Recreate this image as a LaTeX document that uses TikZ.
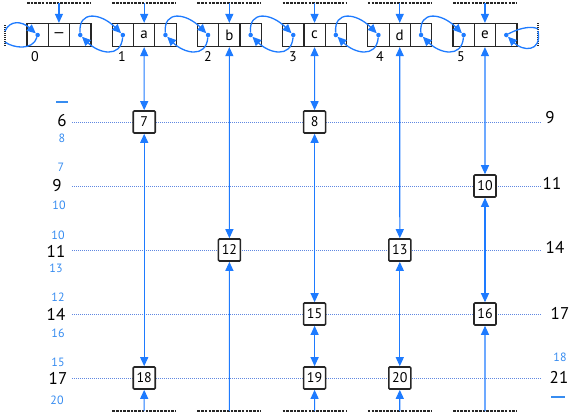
\documentclass[tikz,border=0pt]{standalone}
\usepackage{fontspec}
\setmainfont{PT Sans}
\usetikzlibrary{arrows.meta}
\definecolor{arrowblue}{RGB}{30,123,255}
\definecolor{labelblue}{RGB}{55,140,240}
\definecolor{dotblue}{RGB}{95,135,225}
\begin{document}
\begin{tikzpicture}[x=1pt,y=-1pt,
  cell/.style={draw=black!85, line width=1.2pt, minimum width=21.3pt, minimum height=23pt, inner sep=0pt, font=\fontsize{15}{15}\selectfont},
  box/.style={draw=black!85, line width=1.6pt, rounded corners=1pt, fill=white, minimum width=22pt, minimum height=22pt, inner sep=0pt, font=\fontsize{14}{14}\selectfont},
  ptrdot/.style={circle, fill=arrowblue, inner sep=0pt, minimum size=4.5pt},
  link/.style={draw=arrowblue, line width=1.1pt, -{Triangle[length=9pt,width=8pt]}},
  dlink/.style={draw=arrowblue, line width=1.1pt, {Triangle[length=9pt,width=8pt]}-{Triangle[length=9pt,width=8pt]}},
  ptr/.style={draw=arrowblue, line width=1.3pt, -{Triangle[length=9pt,width=8pt]}},
  ptrend/.style={draw=arrowblue, line width=1.3pt},
  level/.style={draw=dotblue, line width=0.9pt, dash pattern=on 0.9pt off 1.1pt},
  sent/.style={draw=black!85, line width=1.5pt, dash pattern=on 2.6pt off 1.1pt},
  edge/.style={draw=black!85, line width=1.3pt, dash pattern=on 1pt off 1pt},
  biglbl/.style={font=\fontsize{17}{17}\selectfont, text=black},
  smalllbl/.style={font=\fontsize{12}{12}\selectfont, text=labelblue},
  idx/.style={font=\fontsize{14}{14}\selectfont, text=black}
]
\useasboundingbox (0,0) rectangle (570,413);

% ---------- level lines ----------
\foreach \n/\y in {6/122,9/186,11/250,14/314,17/378}{
  \coordinate (LL\n) at (72,\y);
  \coordinate (LR\n) at (541,\y);
  \draw[level] (LL\n) -- (LR\n);
}

% ---------- linked list nodes ----------
\foreach \i/\x/\t in {0/27/{\textemdash},1/112.2/a,2/197.4/b,3/282.6/c,4/367.8/d,5/453/e}{
  \node[cell] (n\i l) at (\x+10.65,35) {};
  \node[cell] (n\i m) at (\x+31.95,35) {\t};
  \node[cell] (n\i r) at (\x+53.25,35) {};
  \node[ptrdot] (n\i ld) at (n\i l) {};
  \node[ptrdot] (n\i rd) at (n\i r) {};
  \coordinate (tsL\i) at (\x,3);
  \coordinate (tsR\i) at (\x+64,3);
  \coordinate (ts\i) at (\x+31.95,3);
  \draw[sent] (tsL\i) -- (tsR\i);
  \draw[link] (ts\i) -- (n\i m.north);
}
\foreach \i/\x in {1/112.2,2/197.4,3/282.6,4/367.8,5/453}{
  \coordinate (bsL\i) at (\x,411);
  \coordinate (bsR\i) at (\x+64,411);
  \coordinate (bs\i) at (\x+31.95,411);
  \draw[sent] (bsL\i) -- (bsR\i);
}

% index labels
\node[idx] (i0) at (35,57) {0};
\node[idx] (i1) at (122,57) {1};
\node[idx] (i2) at (208,57) {2};
\node[idx] (i3) at (293,57) {3};
\node[idx] (i4) at (380,57) {4};
\node[idx] (i5) at (461,57) {5};

% pointers between neighbours
\foreach \i/\j in {0/1,1/2,2/3,3/4,4/5}{
  \draw[ptr] (n\i rd) .. controls +(-2,-25) and +(-22,-22) .. (n\j ld);
  \draw[ptr] (n\j ld) .. controls +(-2,24) and +(18,18) .. (n\i rd);
}

% wrap-around edges
\coordinate (EL1) at (5,25);
\coordinate (EL2) at (5,47);
\coordinate (ER1) at (538,23);
\coordinate (ER2) at (538,47);
\draw[edge] (EL1) -- (EL2);
\draw[edge] (ER1) -- (ER2);
\coordinate (wl1) at (5,31);
\coordinate (wl2) at (5,42);
\coordinate (wr1) at (538,29);
\coordinate (wr2) at (538,31);
\draw[ptr] (wl1) .. controls +(5,-11) and +(-16,-14) .. (n0ld);
\draw[ptrend] (n0ld) .. controls +(-5,16) and +(8,6) .. (wl2);
\draw[ptrend] (n5rd) .. controls +(15,-8) and +(-5,-3) .. (wr1);
\draw[ptr] (wr2) .. controls +(4,22) and +(16,16) .. (n5rd);

% ---------- skip-list boxes ----------
\node[box] (b7)  at (144.2,122) {7};
\node[box] (b8)  at (314.6,122) {8};
\node[box] (b10) at (485,186) {10};
\node[box] (b12) at (229.4,250) {12};
\node[box] (b13) at (399.8,250) {13};
\node[box] (b15) at (314.6,314) {15};
\node[box] (b16) at (485,314) {16};
\node[box] (b18) at (144.2,378) {18};
\node[box] (b19) at (314.6,378) {19};
\node[box] (b20) at (399.8,378) {20};

% column a
\draw[dlink] (n1m.south) -- (b7.north);
\draw[dlink] (b7.south) -- (b18.north);
\draw[link] (bs1) -- (b18.south);
% column b
\draw[dlink] (n2m.south) -- (b12.north);
\draw[link] (bs2) -- (b12.south);
% column c
\draw[dlink] (n3m.south) -- (b8.north);
\draw[dlink] (b8.south) -- (b15.north);
\draw[dlink] (b15.south) -- (b19.north);
\draw[link] (bs3) -- (b19.south);
% column d
\draw[dlink] (n4m.south) -- (b13.north);
\draw[dlink] (b13.south) -- (b20.north);
\draw[link] (bs4) -- (b20.south);
% column e
\draw[dlink] (n5m.south) -- (b10.north);
\draw[dlink] (b10.south) -- (b16.north);
\draw[link] (bs5) -- (b16.south);

% ---------- left labels ----------
\coordinate (dashA1) at (56,102);
\coordinate (dashA2) at (68,102);
\draw[draw=labelblue, line width=1.2pt] (dashA1) -- (dashA2);
\node[biglbl] (l6) at (62,121) {6};
\node[smalllbl] (l8) at (62,138) {8};
\node[smalllbl] (l7) at (61,167) {7};
\node[biglbl] (l9) at (57,186) {9};
\node[smalllbl] (l10a) at (59,205) {10};
\node[smalllbl] (l10b) at (58,235) {10};
\node[biglbl] (l11) at (56,251) {11};
\node[smalllbl] (l13) at (56,268) {13};
\node[smalllbl] (l12) at (58,297) {12};
\node[biglbl] (l14) at (56,314) {14};
\node[smalllbl] (l16) at (58,333) {16};
\node[smalllbl] (l15) at (58,362) {15};
\node[biglbl] (l17) at (58,378) {17};
\node[smalllbl] (l20) at (57,400) {20};

% ---------- right labels ----------
\node[biglbl] (r9) at (550,118) {9};
\node[biglbl] (r11) at (552,183) {11};
\node[biglbl] (r14) at (555,247) {14};
\node[biglbl] (r17) at (560,313) {17};
\node[smalllbl] (r18) at (560,357) {18};
\node[biglbl] (r21) at (559,377) {21};
\coordinate (dashB1) at (551,397);
\coordinate (dashB2) at (565,397);
\draw[draw=labelblue, line width=1.2pt] (dashB1) -- (dashB2);
\end{tikzpicture}
\end{document}
